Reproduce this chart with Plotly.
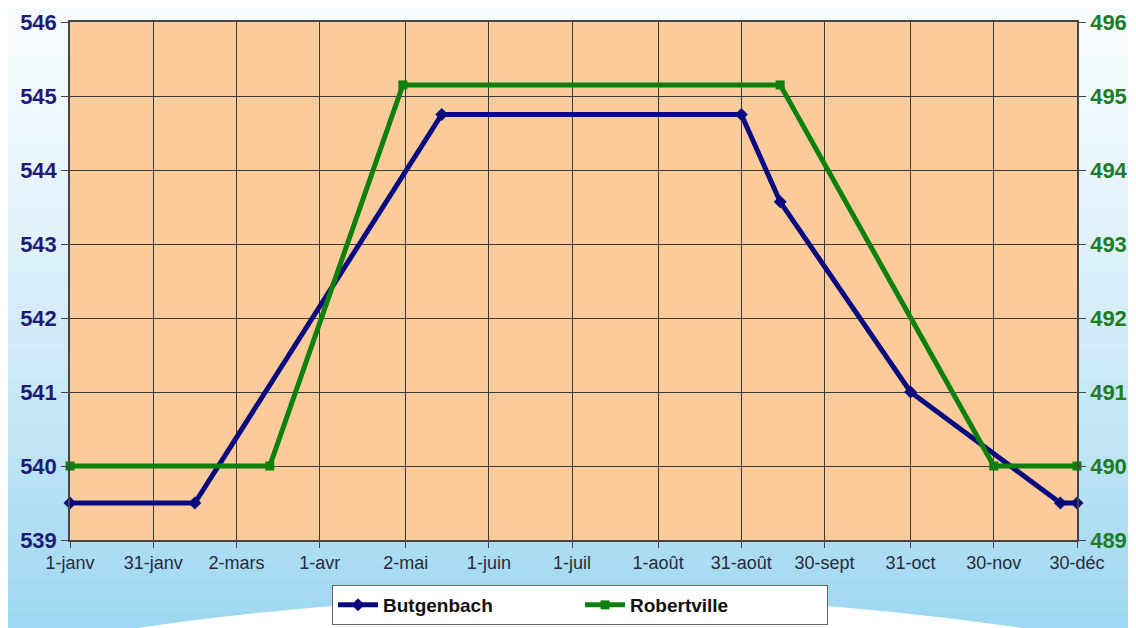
import plotly.graph_objects as go

# ---- data ----
tick_dates = ["2007-01-01", "2007-01-31", "2007-03-02", "2007-04-01", "2007-05-02",
              "2007-06-01", "2007-07-01", "2007-08-01", "2007-08-31", "2007-09-30",
              "2007-10-31", "2007-11-30", "2007-12-30"]
tick_labels = ["1-janv", "31-janv", "2-mars", "1-avr", "2-mai", "1-juin", "1-juil",
               "1-août", "31-août", "30-sept", "31-oct", "30-nov", "30-déc"]

butgenbach_dates = ["2007-01-01", "2007-02-15", "2007-05-15", "2007-08-31",
                    "2007-09-14", "2007-10-31", "2007-12-24", "2007-12-30"]
butgenbach_values = [539.5, 539.5, 544.75, 544.75, 543.57, 541.0, 539.5, 539.5]

robertville_dates = ["2007-01-01", "2007-03-14", "2007-05-01", "2007-09-14",
                     "2007-11-30", "2007-12-30"]
robertville_values = [490.0, 490.0, 495.15, 495.15, 490.0, 490.0]

left_ticks = [539, 540, 541, 542, 543, 544, 545, 546]
right_ticks = [489, 490, 491, 492, 493, 494, 495, 496]

# ---- figure geometry (page has an 8px body margin) ----
OFF = 8
W, H = 1136 - OFF, 628 - OFF
L, R, T, B = 70 - OFF, 59, 22 - OFF, 88
pw, ph = W - L - R, H - T - B

def px(x):  # window pixel -> paper x
    return (x - OFF - L) / pw

def py(y):  # window pixel -> paper y
    return (H - B - (y - OFF)) / ph

fig = go.Figure()

fig.add_trace(go.Scatter(
    x=butgenbach_dates, y=butgenbach_values, name="Butgenbach",
    mode="lines+markers", line=dict(color="#0A0A80", width=5),
    marker=dict(symbol="diamond", size=10, color="#0A0A80"),
    cliponaxis=False, yaxis="y"))

fig.add_trace(go.Scatter(
    x=robertville_dates, y=robertville_values, name="Robertville",
    mode="lines+markers", line=dict(color="#0B800B", width=5),
    marker=dict(symbol="square", size=9, color="#0B800B"),
    cliponaxis=False, yaxis="y2"))

# background gradient (paper)
shapes = []
n = 40
top_c = (246, 251, 254)
bot_c = (158, 215, 242)
y0p, y1p = py(628), py(OFF)
for i in range(n):
    f = i / (n - 1)
    c = tuple(int(top_c[k] + (bot_c[k] - top_c[k]) * (f ** 1.4)) for k in range(3))
    ya = y1p - (y1p - y0p) * i / n
    yb = y1p - (y1p - y0p) * (i + 1) / n
    shapes.append(dict(type="rect", xref="paper", yref="paper",
                       x0=px(OFF), x1=px(1136), y0=yb, y1=ya + 0.001,
                       fillcolor="rgb(%d,%d,%d)" % c, line=dict(width=0), layer="below"))
# white wave at bottom
shapes.append(dict(type="path", xref="paper", yref="paper", layer="below",
                   path="M %f,%f Q %f,%f %f,%f Z" % (px(110), py(632), px(580), py(560),
                                                   px(1050), py(632)),
                   fillcolor="white", line=dict(width=0)))
# plot area background
shapes.append(dict(type="rect", xref="paper", yref="paper", x0=0, x1=1, y0=0, y1=1,
                   fillcolor="#FCCB9C", line=dict(width=0), layer="below"))

font_family = "Arial, Liberation Sans, sans-serif"

fig.update_layout(
    width=W, height=H,
    margin=dict(l=L, r=R, t=T, b=B, autoexpand=False),
    paper_bgcolor="white",
    plot_bgcolor="rgba(0,0,0,0)",
    shapes=shapes,
    showlegend=True,
    legend=dict(orientation="h", x=px(580), xanchor="center", y=py(585), yanchor="top",
                bgcolor="white", bordercolor="#666", borderwidth=1,
                font=dict(family=font_family, size=19, color="#111", weight="bold"),
                entrywidth=192, entrywidthmode="pixels", itemwidth=40,
                tracegroupgap=0),
    xaxis=dict(type="date", range=["2007-01-01", "2007-12-30"],
               tickvals=tick_dates, ticktext=tick_labels,
               showgrid=True, gridcolor="#3A3A3A", gridwidth=1,
               showline=True, linecolor="#444", linewidth=1.5, mirror=True,
               ticks="outside", ticklen=6, tickcolor="#444",
               tickfont=dict(family=font_family, size=18, color="#2A2A3A"),
               zeroline=False),
    yaxis=dict(range=[539, 546], tickvals=left_ticks,
               showgrid=True, gridcolor="#3A3A3A", gridwidth=1,
               showline=True, linecolor="#444", linewidth=1.5,
               ticks="outside", ticklen=7, tickcolor="#444",
               tickfont=dict(family=font_family, size=22, color="#1C1C78", weight="bold"),
               zeroline=False),
    yaxis2=dict(range=[489, 496], tickvals=right_ticks, overlaying="y", side="right",
                showgrid=False, showline=True, linecolor="#444", linewidth=1.5,
                ticks="outside", ticklen=7, tickcolor="#444",
                tickfont=dict(family=font_family, size=22, color="#1E7D1E", weight="bold"),
                zeroline=False),
)

fig.write_html("out.html")
